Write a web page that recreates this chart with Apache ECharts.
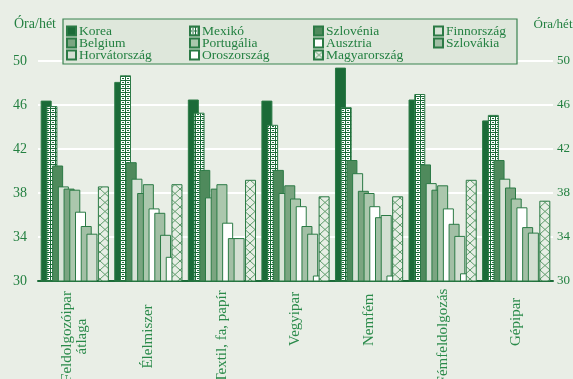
<!DOCTYPE html>
<html>
<head>
<meta charset="utf-8">
<script src="https://cdn.jsdelivr.net/npm/echarts@6/dist/echarts.min.js"></script>
<style>
  html, body { margin: 0; padding: 0; background: #e9eee6; }
  #chart { width: 573px; height: 379px; }
</style>
</head>
<body>
<div id="chart"></div>
<script>
// ágazatok (x tengely)
const categories = ['Feldolgozóipar\nátlaga', 'Élelmiszer', 'Textil, fa, papír', 'Vegyipar', 'Nemfém', 'Fémfeldolgozás', 'Gépipar']
const yTicks = [30, 34, 38, 42, 46, 50]

// heti munkaórák országonként
const korea        = [46.4, 48.1, 46.5, 46.4, 49.4, 46.5, 44.6]
const mexiko       = [45.9, 48.7, 45.3, 44.2, 45.8, 47.0, 45.1]
const szlovenia    = [40.5, 40.8, 40.1, 40.1, 41.0, 40.6, 41.0]
const finnorszag   = [38.6, 39.3, 37.6, 38.0, 39.8, 38.9, 39.3]
const belgium      = [38.4, 38.0, 38.4, 38.7, 38.2, 38.3, 38.5]
const portugalia   = [38.3, 38.8, 38.8, 37.5, 38.0, 38.7, 37.5]
const ausztria     = [36.3, 36.6, 35.3, 36.8, 36.8, 36.6, 36.7]
const szlovakia    = [35.0, 36.2, 33.9, 35.0, 35.8, 35.2, 34.9]
const horvat       = [34.3, 34.2, 33.9, 34.3, 36.0, 34.1, 34.4]
const orosz        = [null, 32.2, null, 30.5, 30.5, 30.7, null]
const magyar       = [38.6, 38.8, 39.2, 37.7, 37.7, 39.2, 37.3]

const GREEN = '#1b6b38'
const TEXT = '#238041'
const FONT = '"Liberation Serif", "DejaVu Serif", serif'

function mexPattern() {
  const c = document.createElement('canvas')
  c.width = 5
  c.height = 4
  const ctx = c.getContext('2d')
  ctx.fillStyle = '#ffffff'
  ctx.fillRect(0, 0, 5, 4)
  ctx.fillStyle = GREEN
  ctx.fillRect(0, 0, 5, 1)
  ctx.fillRect(0, 0, 1, 4)
  ctx.fillRect(2, 2, 2, 1)
  return c
}

function crossPattern() {
  const c = document.createElement('canvas')
  c.width = 10
  c.height = 9
  const ctx = c.getContext('2d')
  ctx.fillStyle = '#e7eee5'
  ctx.fillRect(0, 0, 10, 9)
  ctx.strokeStyle = '#5f9b6c'
  ctx.lineWidth = 1
  ctx.beginPath()
  ctx.moveTo(0, 0); ctx.lineTo(10, 9)
  ctx.moveTo(10, 0); ctx.lineTo(0, 9)
  ctx.stroke()
  return c
}

const seriesDefs = [
  { name: 'Korea', data: korea, color: GREEN },
  { name: 'Mexikó', data: mexiko, color: { image: mexPattern(), repeat: 'repeat' } },
  { name: 'Szlovénia', data: szlovenia, color: '#4f8a5c' },
  { name: 'Finnország', data: finnorszag, color: '#d7e3d6' },
  { name: 'Belgium', data: belgium, color: '#7ba581' },
  { name: 'Portugália', data: portugalia, color: '#abc7ad' },
  { name: 'Ausztria', data: ausztria, color: '#ffffff' },
  { name: 'Szlovákia', data: szlovakia, color: '#a2bfa5' },
  { name: 'Horvátország', data: horvat, color: '#d3dfd2' },
  { name: 'Oroszország', data: orosz, color: '#ffffff' },
  { name: 'Magyarország', data: magyar, color: { image: crossPattern(), repeat: 'repeat' } }
]

const legendCols = [
  ['Korea', 'Belgium', 'Horvátország'],
  ['Mexikó', 'Portugália', 'Oroszország'],
  ['Szlovénia', 'Ausztria', 'Magyarország'],
  ['Finnország', 'Szlovákia']
]
const legendLeft = [66, 189, 313, 433]

const chart = echarts.init(document.getElementById('chart'))

const yAxisBase = {
  type: 'value',
  min: yTicks[0],
  max: yTicks[yTicks.length - 1],
  interval: yTicks[1] - yTicks[0],
  name: 'Óra/hét',
  nameLocation: 'end',
  nameGap: 30,
  axisLine: { show: false },
  axisTick: { show: false },
  axisLabel: { fontFamily: FONT, fontSize: 14, color: TEXT }
}

const xLabelStyle = { fontFamily: FONT, fontSize: 15, color: '#2a8a4a' }

chart.setOption({
  backgroundColor: '#e9eee6',
  animation: false,
  grid: { left: 38, right: 20, top: 61, bottom: 98, outerBoundsMode: 'none' },
  graphic: [{
    type: 'rect',
    z: 1,
    shape: { x: 63, y: 19, width: 454, height: 45 },
    style: { fill: '#dee7db', stroke: '#3a8450', lineWidth: 1.2 }
  }],
  legend: legendCols.map((col, i) => ({
    data: col,
    orient: 'vertical',
    left: legendLeft[i],
    top: 24,
    padding: 0,
    itemGap: -2,
    itemWidth: 9,
    itemHeight: 9,
    icon: 'rect',
    z: 3,
    selectedMode: false,
    textStyle: { fontFamily: FONT, fontSize: 13.5, color: TEXT, lineHeight: 12, padding: [0, 0, 0, -2] }
  })),
  xAxis: {
    type: 'category',
    data: categories,
    axisTick: { show: false },
    axisLine: { lineStyle: { color: GREEN, width: 2 } },
    axisLabel: Object.assign({
      rotate: 90,
      margin: 10,
      interval: 0,
      // rövid feliratok alulra igazítva, hosszúak a tengelyhez
      formatter: v => v.length <= 8 ? '{s|' + v + '}' : v.split('\n').map(t => '{l|' + t + '}').join('\n'),
      rich: {
        s: Object.assign({ width: 55, align: 'left' }, xLabelStyle),
        l: Object.assign({ width: 91, align: 'center' }, xLabelStyle)
      }
    }, xLabelStyle)
  },
  yAxis: [
    Object.assign({}, yAxisBase, {
      position: 'left',
      nameTextStyle: { fontFamily: FONT, fontSize: 14, color: TEXT, padding: [0, 6, 0, 0] },
      splitLine: { lineStyle: { color: '#ffffff', width: 2 } },
      axisLabel: Object.assign({}, yAxisBase.axisLabel, { margin: 11 })
    }),
    Object.assign({}, yAxisBase, {
      position: 'right',
      nameTextStyle: { fontFamily: FONT, fontSize: 13, color: TEXT },
      splitLine: { show: false },
      axisLabel: Object.assign({}, yAxisBase.axisLabel, { fontSize: 13, margin: 4 })
    })
  ],
  series: seriesDefs.map(s => ({
    name: s.name,
    type: 'bar',
    data: s.data,
    barWidth: 11,
    barGap: '-48%',
    itemStyle: { color: s.color, borderColor: '#2b7a45', borderWidth: 1 }
  }))
})
</script>
</body>
</html>
